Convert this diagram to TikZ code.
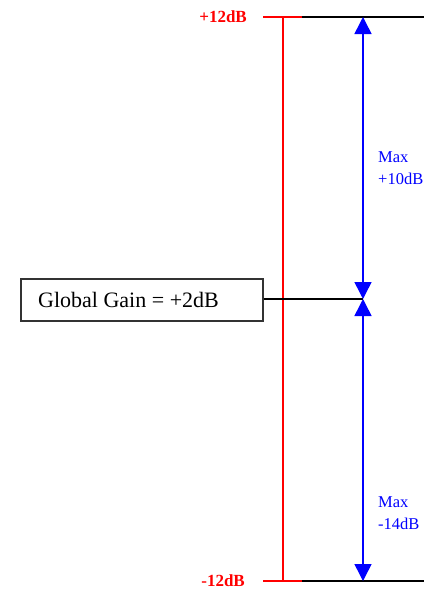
\documentclass[tikz,border=0pt]{standalone}
\usepackage{fontspec}
\setmainfont{Liberation Serif}
\usetikzlibrary{arrows.meta}
\begin{document}
\begin{tikzpicture}[x=1pt,y=-1pt,
  redline/.style={draw=red,line width=1.5pt},
  blackline/.style={draw=black,line width=1.5pt},
  bluearrow/.style={draw=blue,line width=1.5pt,{Triangle[length=17pt,width=17pt]}-{Triangle[length=17pt,width=17pt]}},
  redlabel/.style={text=red,font=\fontsize{17}{19}\selectfont\bfseries,anchor=east,inner sep=0pt},
  bluelabel/.style={text=blue,font=\fontsize{16.5}{22}\selectfont,anchor=west,align=left,inner sep=0pt},
  gainbox/.style={draw=black!80,line width=1.2pt,minimum width=242pt,minimum height=42pt,inner sep=0pt},
  gaintext/.style={anchor=west,inner sep=0pt,font=\fontsize{22}{26}\selectfont}]
\useasboundingbox (0,0) rectangle (445,597);
% coordinates
\coordinate (tl) at (263,17);
\coordinate (tm) at (302,17);
\coordinate (tr) at (424,17);
\coordinate (bl) at (263,581);
\coordinate (bm) at (302,581);
\coordinate (br) at (424,581);
\coordinate (vt) at (283,17);
\coordinate (vb) at (283,581);
\coordinate (at) at (363,17);
\coordinate (am) at (363,299);
\coordinate (ab) at (363,581);
% labels
\node[redlabel] (ptop) at (247,17) {+12dB};
\node[redlabel] (pbot) at (245,581) {-12dB};
\node[gainbox] (gain) at (142,300) {};
\node[gaintext] (gaintxt) at (38,300) {Global Gain = +2dB};
\node[bluelabel] (maxup) at (378,168) {Max\\+10dB};
\node[bluelabel] (maxdn) at (378,513) {Max\\-14dB};
% lines
\draw[redline] (tl) -- (tm);
\draw[redline] (bl) -- (bm);
\draw[redline] (vt) -- (vb);
\draw[blackline] (tm) -- (tr);
\draw[blackline] (bm) -- (br);
\draw[blackline] (gain.east |- am) -- (am);
\draw[bluearrow] (am) -- (at);
\draw[bluearrow] (am) -- (ab);
\end{tikzpicture}
\end{document}
